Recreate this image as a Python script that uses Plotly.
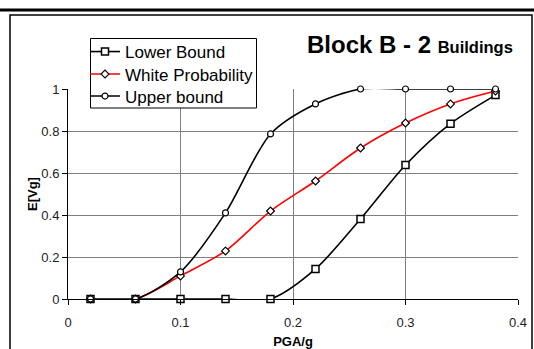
import plotly.graph_objects as go

# PGA/g sample points and expected values for each bound
pga = [0.02, 0.06, 0.10, 0.14, 0.18, 0.22, 0.26, 0.30, 0.34, 0.38]
lower_bound = [0.0, 0.0, 0.0, 0.0, 0.0, 0.143, 0.381, 0.638, 0.835, 0.971]
white_prob = [0.0, 0.0, 0.11, 0.229, 0.419, 0.562, 0.719, 0.838, 0.929, 0.99]
upper_bound = [0.0, 0.0, 0.129, 0.41, 0.786, 0.929, 1.0, 1.0, 1.0, 1.0]

x_ticks = [0, 0.1, 0.2, 0.3, 0.4]
x_labels = ["0", "0.1", "0.2", "0.3", "0.4"]
y_ticks = [0, 0.2, 0.4, 0.6, 0.8, 1]
y_labels = ["0", "0.2", "0.4", "0.6", "0.8", "1"]

W, H = 534, 349
L, R, T, B = 68, 16, 89, 50
pw, ph = W - L - R, H - T - B


def px(xp):
    return (xp - L) / pw


def py(yp):
    return (H - B - yp) / ph


fig = go.Figure()

fig.add_trace(go.Scatter(
    x=pga, y=lower_bound, name="Lower Bound", mode="lines+markers",
    line=dict(color="black", width=1.6, shape="spline", smoothing=0.8),
    marker=dict(symbol="square", size=7, color="white", line=dict(color="black", width=1.5)),
    cliponaxis=False, legend="legend",
))
fig.add_trace(go.Scatter(
    x=pga, y=white_prob, name="White Probability", mode="lines+markers",
    line=dict(color="#ff0000", width=1.6, shape="spline", smoothing=0.8),
    marker=dict(symbol="diamond", size=6, color="white", line=dict(color="black", width=1.2)),
    cliponaxis=False, legend="legend2",
))
fig.add_trace(go.Scatter(
    x=pga, y=upper_bound, name="Upper bound", mode="lines+markers",
    line=dict(color="black", width=1.6, shape="spline", smoothing=0.8),
    marker=dict(symbol="circle", size=6, color="white", line=dict(color="black", width=1.2)),
    cliponaxis=False, legend="legend3",
))

font_family = "Liberation Sans, Arial, sans-serif"


def legend_at(top):
    return dict(
        x=px(85), y=py(top), xanchor="left", yanchor="top",
        bgcolor="rgba(0,0,0,0)", borderwidth=0,
        font=dict(size=17, family=font_family, color="black"),
        itemwidth=30,
    )


fig.update_layout(
    width=W, height=H,
    margin=dict(l=L, r=R, t=T, b=B, pad=0),
    paper_bgcolor="white", plot_bgcolor="white",
    font=dict(family=font_family, color="black", size=13),
    showlegend=True,
    legend=legend_at(34),
    legend2=legend_at(56.5),
    legend3=legend_at(78.5),
    xaxis=dict(
        range=[0, 0.4], tickvals=x_ticks, ticktext=x_labels,
        showgrid=True, gridcolor="#808080", gridwidth=1,
        showline=True, linecolor="black", linewidth=1,
        ticks="outside", ticklen=5, tickcolor="black",
        ticklabelstandoff=6, automargin=False,
        zeroline=False, tickfont=dict(size=13, color="#222"),
        title=dict(text="<b>PGA/g</b>", font=dict(size=13), standoff=11),
    ),
    yaxis=dict(
        range=[0, 1], tickvals=y_ticks, ticktext=y_labels,
        showgrid=True, gridcolor="#808080", gridwidth=1,
        showline=True, linecolor="black", linewidth=1,
        ticks="outside", ticklen=5, tickcolor="black",
        automargin=False,
        zeroline=False, tickfont=dict(size=13, color="#222"),
        title=dict(text="<b>E[Vg]</b>", font=dict(size=13), standoff=0),
    ),
    shapes=[
        # heavy rule across the top of the page
        dict(type="line", xref="paper", yref="paper",
             x0=px(-2), x1=px(W + 2), y0=py(10), y1=py(10),
             line=dict(color="black", width=3)),
        # chart frame
        dict(type="rect", xref="paper", yref="paper",
             x0=px(10), x1=px(532), y0=py(15), y1=py(H + 5),
             line=dict(color="black", width=1.5), fillcolor="rgba(0,0,0,0)"),
        # legend box
        dict(type="rect", xref="paper", yref="paper", layer="above",
             x0=px(90.5), x1=px(256.5), y0=py(38.5), y1=py(108),
             line=dict(color="black", width=1), fillcolor="white"),
    ],
    annotations=[
        dict(
            xref="paper", yref="paper", x=px(515), y=py(44.5),
            xanchor="right", yanchor="middle", showarrow=False,
            text="<b>Block B - 2 </b><b><span style='font-size:16.5px'>Buildings</span></b>",
            font=dict(size=24, family=font_family, color="black"),
        )
    ],
)

fig.write_html("out.html")
